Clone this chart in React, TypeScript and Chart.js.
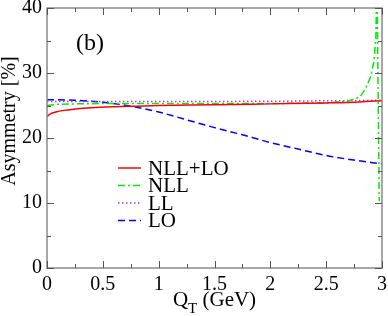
import React, { useEffect, useRef } from "react";
import { Chart, registerables } from "chart.js";

Chart.register(...registerables);

// ---- data ----
const nllLoX = [0, 0.03, 0.08, 0.15, 0.25, 0.4, 0.6, 0.8, 1, 1.5, 2, 2.5, 2.8, 3];
const nllLoY = [23.3, 23.7, 24.0, 24.25, 24.45, 24.65, 24.8, 24.9, 25.0, 25.1, 25.25, 25.4, 25.55, 25.75];

const nllX = [0, 0.1, 0.25, 0.5, 1, 1.5, 2, 2.5, 2.7, 2.8, 2.85, 2.9, 2.93, 2.945, 2.955, 2.975];
const nllY = [25.0, 25.2, 25.25, 25.3, 25.3, 25.3, 25.3, 25.4, 25.7, 26.3, 27.5, 29.5, 32.0, 35.5, 45.0, 10.3];

const llX = [0, 1, 2, 3];
const llY = [25.6, 25.6, 25.65, 25.8];

const loX = [0, 0.25, 0.5, 0.75, 1, 1.25, 1.5, 1.75, 2, 2.25, 2.5, 2.75, 3];
const loY = [25.9, 25.8, 25.5, 24.9, 24.0, 22.8, 21.6, 20.5, 19.3, 18.3, 17.3, 16.6, 16.0];

const seriesLabels = ["NLL+LO", "NLL", "LL", "LO"];
const xTicks = [0, 0.5, 1, 1.5, 2, 2.5, 3];
const yTicks = [0, 10, 20, 30, 40];
const panelLabel = "(b)";
const xTitleMain = "Q";
const xTitleSub = "T";
const xTitleRest = " (GeV)";
const yTitle = "Asymmetry [%]";

const FONT = "'Liberation Serif', 'Times New Roman', serif";

const zip = (xs: number[], ys: number[]) => xs.map((x, i) => ({ x, y: ys[i] }));

const framePlugin = {
  id: "framePlugin",
  afterDraw(chart: any) {
    const { ctx, chartArea: a, scales } = chart;
    const xs = scales.x;
    const ys = scales.y;
    ctx.save();
    // frame
    ctx.strokeStyle = "#8a8a8a";
    ctx.lineWidth = 1.5;
    ctx.strokeRect(a.left, a.top, a.right - a.left, a.bottom - a.top);
    // ticks
    ctx.strokeStyle = "#555";
    ctx.lineWidth = 1;
    for (let v = 0; v <= 3.0001; v += 0.25) {
      const major = Math.abs(v * 2 - Math.round(v * 2)) < 1e-6;
      const len = major ? 7 : 4;
      const px = Math.round(xs.getPixelForValue(v)) + 0.5;
      ctx.beginPath();
      ctx.moveTo(px, a.bottom);
      ctx.lineTo(px, a.bottom - len);
      ctx.moveTo(px, a.top);
      ctx.lineTo(px, a.top + len);
      ctx.stroke();
    }
    for (let v = 0; v <= 40.001; v += 5) {
      const major = v % 10 === 0;
      const len = major ? 7 : 4;
      const py = Math.round(ys.getPixelForValue(v)) + 0.5;
      ctx.beginPath();
      ctx.moveTo(a.left, py);
      ctx.lineTo(a.left + len, py);
      ctx.moveTo(a.right, py);
      ctx.lineTo(a.right - len, py);
      ctx.stroke();
    }
    // panel label
    ctx.fillStyle = "#000";
    ctx.font = `24px ${FONT}`;
    ctx.textBaseline = "middle";
    ctx.textAlign = "left";
    ctx.fillText(panelLabel, 76, 44);
    // legend
    chart.data.datasets.forEach((ds: any, i: number) => {
      const y = 168 + i * 17.5;
      ctx.save();
      ctx.strokeStyle = ds.borderColor;
      ctx.lineWidth = ds.borderWidth;
      ctx.setLineDash(ds.borderDash || []);
      ctx.beginPath();
      ctx.moveTo(118, y);
      ctx.lineTo(141, y);
      ctx.stroke();
      ctx.restore();
      ctx.fillStyle = "#000";
      ctx.font = `21px ${FONT}`;
      ctx.textBaseline = "middle";
      ctx.textAlign = "left";
      ctx.fillText(ds.label, 148, y + 1);
    });
    // x title with subscript
    ctx.textAlign = "left";
    ctx.font = `21px ${FONT}`;
    const wQ = ctx.measureText(xTitleMain).width;
    const wRest = ctx.measureText(xTitleRest).width;
    ctx.font = `15px ${FONT}`;
    const wT = ctx.measureText(xTitleSub).width;
    const total = wQ + wT + wRest;
    const cx = (a.left + a.right) / 2;
    let x0 = cx - total / 2;
    const base = 306;
    ctx.textBaseline = "alphabetic";
    ctx.font = `21px ${FONT}`;
    ctx.fillText(xTitleMain, x0, base);
    x0 += wQ;
    ctx.font = `15px ${FONT}`;
    ctx.fillText(xTitleSub, x0, base + 7);
    x0 += wT;
    ctx.font = `21px ${FONT}`;
    ctx.fillText(xTitleRest, x0, base);
    // y title
    ctx.save();
    ctx.translate(10, 121);
    ctx.rotate(-Math.PI / 2);
    ctx.textAlign = "center";
    ctx.textBaseline = "middle";
    ctx.font = `20px ${FONT}`;
    ctx.fillText(yTitle, 0, 0);
    ctx.restore();
    ctx.restore();
  },
};

export default function App() {
  const ref = useRef<HTMLCanvasElement | null>(null);
  useEffect(() => {
    document.body.style.margin = "0";
    const canvas = ref.current!;
    const chart = new Chart(canvas, {
      type: "line",
      data: {
        datasets: [
          {
            label: seriesLabels[0],
            data: zip(nllLoX, nllLoY),
            borderColor: "#ff0000",
            borderWidth: 1.5,
            pointRadius: 0,
            cubicInterpolationMode: "monotone",
          },
          {
            label: seriesLabels[1],
            data: zip(nllX, nllY),
            borderColor: "#00ee00",
            borderWidth: 1.5,
            borderDash: [7, 3, 2, 3],
            pointRadius: 0,
            tension: 0,
          },
          {
            label: seriesLabels[2],
            data: zip(llX, llY),
            borderColor: "#b030f0",
            borderWidth: 1.5,
            borderDash: [1.5, 2.5],
            pointRadius: 0,
            tension: 0,
          },
          {
            label: seriesLabels[3],
            data: zip(loX, loY),
            borderColor: "#0000ff",
            borderWidth: 1.5,
            borderDash: [7, 4],
            pointRadius: 0,
            cubicInterpolationMode: "monotone",
          },
        ] as any,
      },
      options: {
        animation: false,
        responsive: false,
        devicePixelRatio: 1,
        layout: { padding: { top: 8, right: 6, left: 0, bottom: 0 } },
        plugins: { legend: { display: false }, tooltip: { enabled: false } },
        scales: {
          x: {
            type: "linear",
            min: 0,
            max: 3,
            grid: { display: false, drawTicks: false },
            border: { display: false },
            afterBuildTicks: (s: any) => {
              s.ticks = xTicks.map((v) => ({ value: v }));
            },
            ticks: {
              color: "#000",
              font: { family: FONT, size: 20 },
              padding: 5,
              maxRotation: 0,
              autoSkip: false,
              callback: (v: any) => String(v),
            },
            afterFit: (s: any) => {
              s.height = 48;
              s.paddingLeft = 0;
              s.paddingRight = 0;
            },
          },
          y: {
            type: "linear",
            min: 0,
            max: 40,
            grid: { display: false, drawTicks: false },
            border: { display: false },
            afterBuildTicks: (s: any) => {
              s.ticks = yTicks.map((v) => ({ value: v }));
            },
            ticks: {
              color: "#000",
              font: { family: FONT, size: 20 },
              padding: 5,
              autoSkip: false,
              callback: (v: any) => String(v),
            },
            afterFit: (s: any) => {
              s.width = 47;
              s.paddingTop = 0;
              s.paddingBottom = 0;
            },
          },
        },
      },
      plugins: [framePlugin],
    });
    return () => chart.destroy();
  }, []);
  return (
    <div style={{ position: "absolute", left: 0, top: 0, width: 388, height: 316 }}>
      <canvas ref={ref} width={388} height={316} />
    </div>
  );
}
